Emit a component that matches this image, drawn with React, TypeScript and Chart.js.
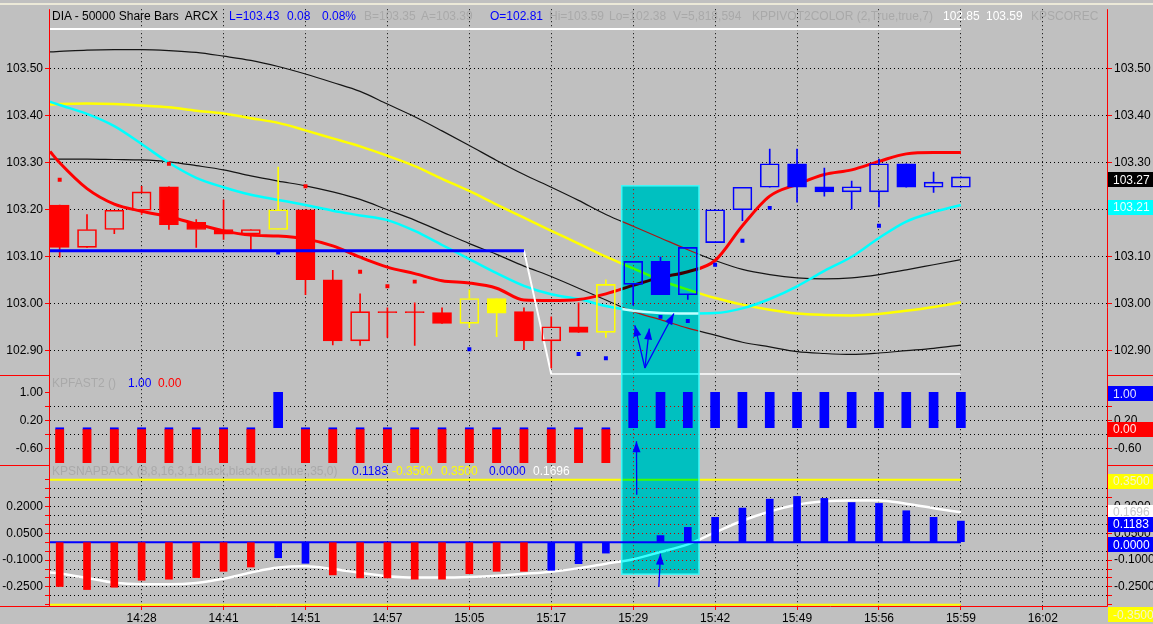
import React, { useEffect, useRef } from 'react';
import { Chart, registerables } from 'chart.js';

Chart.register(...registerables);

const FONT = 'Arial, "Liberation Sans", sans-serif';

// ---------- axis labels ----------
const TIME_LABELS = ['14:28', '14:41', '14:51', '14:57', '15:05', '15:17', '15:29', '15:42', '15:49', '15:56', '15:59', '16:02'];
const TIME_TICK_INDEX = [3, 6, 9, 12, 15, 18, 21, 24, 27, 30, 33, 36];
const PRICE_TICKS = [102.9, 103.0, 103.1, 103.2, 103.3, 103.4, 103.5];
const FAST_TICKS = [1.0, 0.6, 0.2, -0.2, -0.6];
const FAST_LABELED = [1.0, 0.2, -0.6];
const SNAP_TICKS = [-0.35, -0.3, -0.25, -0.2, -0.15, -0.1, -0.05, 0, 0.05, 0.1, 0.15, 0.2, 0.25, 0.3, 0.35];
const SNAP_LABELED = [0.2, 0.05, -0.1, -0.25];

// ---------- price bars ----------
const OPEN = [103.21, 103.12, 103.158, 103.199, 103.249, 103.173, 103.158, 103.148, 103.158, 103.2, 103.051, 102.921, 102.981, 102.981, 102.981, 102.958, 103.011, 102.983, 102.921, 102.951, 102.939, 103.041, 103.09, 103.019, 103.13, 103.2, 103.248, 103.298, 103.249, 103.238, 103.238, 103.298, 103.248, 103.248];
const HIGH = [103.21, 103.19, 103.199, 103.25, 103.249, 103.179, 103.221, 103.158, 103.291, 103.2, 103.071, 103.021, 102.991, 103.002, 102.991, 103.03, 103.011, 102.991, 102.972, 103.002, 103.051, 103.09, 103.099, 103.12, 103.2, 103.248, 103.329, 103.329, 103.289, 103.261, 103.308, 103.298, 103.28, 103.27];
const LOW = [103.099, 103.12, 103.149, 103.19, 103.158, 103.12, 103.137, 103.115, 103.158, 103.019, 102.912, 102.911, 102.928, 102.911, 102.958, 102.949, 102.93, 102.902, 102.863, 102.939, 102.928, 102.997, 103.019, 103.009, 103.13, 103.177, 103.248, 103.216, 103.229, 103.201, 103.206, 103.248, 103.237, 103.248];
const CLOSE = [103.12, 103.158, 103.199, 103.238, 103.168, 103.158, 103.148, 103.158, 103.2, 103.051, 102.921, 102.983, 102.981, 102.981, 102.958, 103.011, 102.98, 102.921, 102.951, 102.939, 103.041, 103.09, 103.019, 103.12, 103.2, 103.248, 103.298, 103.248, 103.238, 103.249, 103.298, 103.248, 103.259, 103.27];
const BAR_TREND = ['R', 'R', 'R', 'R', 'R', 'R', 'R', 'R', 'Y', 'R', 'R', 'R', 'R', 'R', 'R', 'Y', 'Y', 'R', 'R', 'R', 'Y', 'B', 'B', 'B', 'B', 'B', 'B', 'B', 'B', 'B', 'B', 'B', 'B', 'B'];

// ---------- overlays on price ----------
const RED_MA = [103.3, 103.245, 103.212, 103.197, 103.185, 103.17, 103.155, 103.146, 103.144, 103.138, 103.123, 103.099, 103.078, 103.064, 103.049, 103.044, 103.033, 103.008, 103.007, 103.009, 103.021, 103.039, 103.056, 103.068, 103.092, 103.166, 103.229, 103.254, 103.275, 103.285, 103.303, 103.319, 103.322, 103.322];
const CYAN_MA = [103.423, 103.404, 103.378, 103.34, 103.3, 103.268, 103.248, 103.232, 103.221, 103.21, 103.198, 103.188, 103.178, 103.155, 103.125, 103.095, 103.065, 103.038, 103.02, 103.01, 102.995, 102.985, 102.98, 102.979, 102.98, 102.99, 103.01, 103.037, 103.07, 103.1, 103.14, 103.175, 103.195, 103.21];
const YELLOW_MA = [103.425, 103.426, 103.425, 103.422, 103.418, 103.411, 103.405, 103.395, 103.385, 103.369, 103.352, 103.335, 103.315, 103.293, 103.266, 103.24, 103.211, 103.183, 103.155, 103.128, 103.1, 103.075, 103.05, 103.03, 103.012, 102.998, 102.987, 102.979, 102.976, 102.975, 102.978, 102.985, 102.993, 103.003];
const UPPER_BAND = [103.537, 103.54, 103.541, 103.541, 103.539, 103.535, 103.527, 103.518, 103.505, 103.489, 103.471, 103.452, 103.425, 103.398, 103.368, 103.337, 103.305, 103.275, 103.248, 103.22, 103.19, 103.165, 103.14, 103.115, 103.092, 103.073, 103.062, 103.055, 103.053, 103.055, 103.062, 103.072, 103.083, 103.094];
const LOWER_BAND = [103.308, 103.308, 103.307, 103.306, 103.302, 103.294, 103.285, 103.272, 103.261, 103.251, 103.238, 103.222, 103.2, 103.178, 103.153, 103.128, 103.105, 103.08, 103.058, 103.033, 103.008, 102.983, 102.966, 102.948, 102.933, 102.918, 102.908, 102.898, 102.894, 102.892, 102.895, 102.9, 102.905, 102.912];
// values where each line meets the left edge of the plot
const EDGE_RED_MA = 103.324;
const EDGE_CYAN_MA = 103.43;
const EDGE_YELLOW_MA = 103.424;
const EDGE_UPPER_BAND = 103.536;
const EDGE_LOWER_BAND = 103.308;
const EDGE_SNAP_SIGNAL = -0.17;
const PIVOT = [103.113, 103.113, 103.113, 103.113, 103.113, 103.113, 103.113, 103.113, 103.113, 103.113, 103.113, 103.113, 103.113, 103.113, 103.113, 103.113, 103.113, 103.113, 102.85, 102.85, 102.85, 102.85, 102.85, 102.85, 102.85, 102.85, 102.85, 102.85, 102.85, 102.85, 102.85, 102.85, 102.85, 102.85];
const PIVOT_SWITCH = 17;
const PIVOT_HIGH = 103.585;
const RED_DOT_INDEX = [0, 4, 9, 11, 12, 13];
const RED_DOT_VALUE = [103.264, 103.298, 103.25, 103.068, 103.037, 103.047];
const BLUE_DOT_INDEX = [8, 15, 19, 20, 22, 23, 24, 25, 26, 30];
const BLUE_DOT_VALUE = [103.109, 102.903, 102.893, 102.884, 102.972, 102.963, 103.083, 103.134, 103.204, 103.166];

// ---------- KPFAST2 ----------
const FAST2 = [-1, -1, -1, -1, -1, -1, -1, -1, 1, -1, -1, -1, -1, -1, -1, -1, -1, -1, -1, -1, -1, 1, 1, 1, 1, 1, 1, 1, 1, 1, 1, 1, 1, 1];

// ---------- KPSNAPBACK ----------
const SNAP = [-0.248, -0.265, -0.252, -0.213, -0.207, -0.198, -0.163, -0.139, -0.087, -0.118, -0.183, -0.2, -0.2, -0.207, -0.207, -0.176, -0.163, -0.163, -0.157, -0.12, -0.061, 0.0, 0.037, 0.083, 0.139, 0.191, 0.241, 0.256, 0.245, 0.222, 0.217, 0.176, 0.139, 0.118];
const SNAP_TREND = ['R', 'R', 'R', 'R', 'R', 'R', 'R', 'R', 'B', 'B', 'R', 'R', 'R', 'R', 'R', 'R', 'R', 'R', 'B', 'B', 'B', 'B', 'B', 'B', 'B', 'B', 'B', 'B', 'B', 'B', 'B', 'B', 'B', 'B'];
const SNAP_SIGNAL = [-0.175, -0.2, -0.227, -0.235, -0.235, -0.228, -0.205, -0.17, -0.142, -0.135, -0.15, -0.172, -0.19, -0.198, -0.198, -0.195, -0.188, -0.177, -0.165, -0.145, -0.12, -0.095, -0.055, -0.012, 0.055, 0.12, 0.172, 0.21, 0.229, 0.234, 0.234, 0.215, 0.19, 0.167];
const SNAP_BAND = 0.35;

// ---------- annotations (data units) ----------
const BOX_FROM = 20.58;
const BOX_TO = 23.41;
const BOX_TOP_PRICE = 103.251;
const BOX_BOTTOM_SNAP = -0.179;
const MAIN_ARROW_BASE = { x: 21.43, y: 102.863 };
const MAIN_ARROW_TIPS = [{ x: 21.06, y: 102.954 }, { x: 21.59, y: 102.947 }, { x: 22.49, y: 102.979 }];
const FAST_ARROW = { x0: 21.13, snap0: 0.265, x1: 21.12, fast1: -0.384 };
const SNAP_ARROW = { x0: 21.94, y0: -0.25, x1: 22.0, y1: -0.064 };

// ---------- right-hand value tags ----------
const TAG_TEXT = ['103.27', '103.21', '1.00', '0.00', '0.3500', '0.1696', '0.1183', '0.0000', '-0.3500'];
const TAG_VALUE = [103.27, 103.21, 1.0, 0.0, 0.35, 0.1696, 0.1183, 0.0, -0.35];
const TAG_AXIS = ['y1r', 'y1r', 'y2r', 'y2r', 'y3r', 'y3r', 'y3r', 'y3r', 'y3r'];
const TAG_BG = ['#000000', '#00ffff', '#0000ff', '#ff0000', '#ffff00', '#ffffff', '#0000ff', '#0000ff', '#ffff00'];
const TAG_FG = ['#ffffff', '#e8ffff', '#e0e0ff', '#ffe8e8', '#f4f4d0', '#c8c8c8', '#ffffff', '#ffffff', '#f4f4d0'];
const TAG_DY = [3, 2, 1.5, 1.5, 1.5, 0.5, 3.5, 2.5, 10];

const X_MIN = -0.355;
const X_MAX = 38.35;

const COLORS: any = { R: '#ff0000', Y: '#ffff00', B: '#0000ff' };
const N = OPEN.length;
const IDX = OPEN.map((_, i) => i);

const near = (a: number, b: number) => Math.abs(a - b) < 1e-6;

function drawArrow(ctx: any, x0: number, y0: number, x1: number, y1: number) {
  ctx.save();
  ctx.strokeStyle = '#0000ff';
  ctx.fillStyle = '#0000ff';
  ctx.lineWidth = 1.3;
  ctx.beginPath();
  ctx.moveTo(x0, y0);
  ctx.lineTo(x1, y1);
  ctx.stroke();
  const a = Math.atan2(y1 - y0, x1 - x0);
  const L = 11, W = 4;
  const bx = x1 - L * Math.cos(a), by = y1 - L * Math.sin(a);
  ctx.beginPath();
  ctx.moveTo(x1, y1);
  ctx.lineTo(bx + W * Math.sin(a), by - W * Math.cos(a));
  ctx.lineTo(bx - W * Math.sin(a), by + W * Math.cos(a));
  ctx.closePath();
  ctx.fill();
  ctx.restore();
}

const decorPlugin = {
  id: 'tsDecor',
  beforeDraw(chart: any) {
    const ctx = chart.ctx;
    ctx.save();
    ctx.fillStyle = '#c0c0c0';
    ctx.fillRect(0, 0, chart.width, chart.height);
    ctx.fillStyle = '#ece9d8';
    ctx.fillRect(0, 3, chart.width, 2);
    ctx.restore();
  },
  beforeDatasetsDraw(chart: any) {
    chart.$boxDone = false;
  },
  beforeDatasetDraw(chart: any, args: any) {
    const ds = chart.data.datasets[args.index];
    if (ds.afterBox && !chart.$boxDone) {
      chart.$boxDone = true;
      const { x, y1, y3 } = chart.scales;
      const l = x.getPixelForValue(BOX_FROM);
      const r = x.getPixelForValue(BOX_TO);
      const t = y1.getPixelForValue(BOX_TOP_PRICE);
      const b = y3.getPixelForValue(BOX_BOTTOM_SNAP);
      const ctx = chart.ctx;
      ctx.save();
      ctx.globalCompositeOperation = 'difference';
      ctx.fillStyle = 'rgb(192,0,0)';
      ctx.fillRect(l, t, r - l, b - t);
      ctx.restore();
      ctx.save();
      ctx.strokeStyle = '#40f8f8';
      ctx.lineWidth = 1.5;
      ctx.strokeRect(l, t, r - l, b - t);
      ctx.restore();
    }
  },
  afterDraw(chart: any) {
    const ctx = chart.ctx;
    const { x, y1, y2, y3 } = chart.scales;
    const area = chart.chartArea;
    // axis frame
    ctx.save();
    ctx.strokeStyle = '#ff0000';
    ctx.lineWidth = 1;
    ctx.beginPath();
    ctx.moveTo(area.left - 0.5, area.top);
    ctx.lineTo(area.left - 0.5, area.bottom + 0.5);
    ctx.moveTo(area.right + 0.5, area.top);
    ctx.lineTo(area.right + 0.5, area.bottom + 0.5);
    ctx.moveTo(0, area.bottom + 0.5);
    ctx.lineTo(area.right + 0.5, area.bottom + 0.5);
    for (const yy of [y2.top, y3.top]) {
      ctx.moveTo(0, Math.round(yy) + 0.5);
      ctx.lineTo(area.left, Math.round(yy) + 0.5);
      ctx.moveTo(area.right, Math.round(yy) + 0.5);
      ctx.lineTo(chart.width, Math.round(yy) + 0.5);
    }
    ctx.stroke();
    ctx.restore();

    // value tags
    ctx.save();
    ctx.font = `12px ${FONT}`;
    ctx.textBaseline = 'middle';
    ctx.textAlign = 'left';
    TAG_TEXT.forEach((txt, i) => {
      const cy = chart.scales[TAG_AXIS[i]].getPixelForValue(TAG_VALUE[i]) + TAG_DY[i];
      ctx.fillStyle = TAG_BG[i];
      ctx.fillRect(area.right + 1, Math.round(cy - 7.5), chart.width - area.right - 1, 15);
      ctx.fillStyle = TAG_FG[i];
      ctx.fillText(txt, area.right + 6, cy + 0.5);
    });
    ctx.restore();

    // arrows
    const bx = x.getPixelForValue(MAIN_ARROW_BASE.x), by = y1.getPixelForValue(MAIN_ARROW_BASE.y);
    MAIN_ARROW_TIPS.forEach((p) => drawArrow(ctx, bx, by, x.getPixelForValue(p.x), y1.getPixelForValue(p.y)));
    drawArrow(ctx, x.getPixelForValue(FAST_ARROW.x0), y3.getPixelForValue(FAST_ARROW.snap0), x.getPixelForValue(FAST_ARROW.x1), y2.getPixelForValue(FAST_ARROW.fast1));
    drawArrow(ctx, x.getPixelForValue(SNAP_ARROW.x0), y3.getPixelForValue(SNAP_ARROW.y0), x.getPixelForValue(SNAP_ARROW.x1), y3.getPixelForValue(SNAP_ARROW.y1));
  },
};

function yScale(opts: any) {
  const { side, stack, weight, min, max, ticks, label, grid } = opts;
  return {
    type: 'linear',
    position: side,
    stack,
    stackWeight: weight,
    min,
    max,
    afterBuildTicks: (s: any) => { s.ticks = ticks.map((v: number) => ({ value: v })); },
    afterFit: (s: any) => { s.width = side === 'left' ? 50 : 46; },
    border: { display: false, dash: [1, 3] },
    grid: {
      drawOnChartArea: side === 'left',
      color: (c: any) => (grid(c.tick ? c.tick.value : 0) ? '#000000' : 'rgba(0,0,0,0)'),
      lineWidth: 1,
      tickColor: '#ff0000',
      tickLength: 5,
      drawTicks: true,
    },
    ticks: {
      callback: (v: number) => label(v),
      color: '#000000',
      font: { family: FONT, size: 12 },
      padding: 2,
      autoSkip: false,
      maxRotation: 0,
    },
  };
}

function buildConfig(): any {
  const pt = (arr: number[], edge?: number) => [
    ...(edge === undefined ? [] : [{ x: X_MIN, y: edge }]),
    ...arr.map((v, i) => ({ x: i, y: v })),
  ];
  const line = (data: any[], color: string, width: number, order: number, axis: string, extra: any = {}) => ({
    type: 'line', data, borderColor: color, borderWidth: width, pointRadius: 0, fill: false,
    cubicInterpolationMode: 'monotone', xAxisID: 'x', yAxisID: axis, order, ...extra,
  });
  const col = (i: number) => COLORS[BAR_TREND[i]];
  const filled = (i: number) => CLOSE[i] <= OPEN[i];
  const straight = { cubicInterpolationMode: 'default', tension: 0 };

  const datasets: any[] = [
    line([{ x: X_MIN, y: PIVOT_HIGH }, { x: N - 1, y: PIVOT_HIGH }], '#ffffff', 2, 30, 'y1', straight),
    line(pt(UPPER_BAND, EDGE_UPPER_BAND), '#151515', 1.2, 29, 'y1'),
    line(pt(LOWER_BAND, EDGE_LOWER_BAND), '#151515', 1.2, 28, 'y1'),
    line(pt(YELLOW_MA, EDGE_YELLOW_MA), '#ffff00', 2.5, 27, 'y1'),
    line(pt(CYAN_MA, EDGE_CYAN_MA), '#00ffff', 2.5, 26, 'y1'),
    line(pt(RED_MA, EDGE_RED_MA), '#ff0000', 3, 25, 'y1'),
    line(IDX.filter((i) => i >= PIVOT_SWITCH).map((i) => ({ x: i, y: PIVOT[i] })), '#ffffff', 2, 24, 'y1', straight),
    line([{ x: X_MIN, y: SNAP_BAND }, { x: N - 1, y: SNAP_BAND }], '#ffff00', 2, 23, 'y3', straight),
    line([{ x: X_MIN, y: -SNAP_BAND }, { x: N - 1, y: -SNAP_BAND }], '#ffff00', 2, 22, 'y3', straight),
    line(pt(SNAP_SIGNAL, EDGE_SNAP_SIGNAL), '#ffffff', 2.5, 21, 'y3'),
    // ---- drawn after the highlight box ----
    line([{ x: X_MIN, y: 0 }, { x: N - 1, y: 0 }], '#0000ff', 2, 10, 'y3', { ...straight, afterBox: true }),
    {
      type: 'bar', xAxisID: 'x', yAxisID: 'y1', order: 9, afterBox: true, grouped: false,
      data: IDX.map((i) => ({ x: i, y: [Math.max(OPEN[i], CLOSE[i]), HIGH[i]] })),
      backgroundColor: IDX.map(col), borderWidth: 0, barThickness: 1,
    },
    {
      type: 'bar', xAxisID: 'x', yAxisID: 'y1', order: 8, afterBox: true, grouped: false,
      data: IDX.map((i) => ({ x: i, y: [LOW[i], Math.min(OPEN[i], CLOSE[i])] })),
      backgroundColor: IDX.map(col), borderWidth: 0, barThickness: 1,
    },
    {
      type: 'bar', xAxisID: 'x', yAxisID: 'y1', order: 7, afterBox: true, grouped: false,
      data: IDX.map((i) => ({ x: i, y: [Math.min(OPEN[i], CLOSE[i]), Math.max(OPEN[i], CLOSE[i])] })),
      backgroundColor: IDX.map((i) => (filled(i) ? col(i) : 'rgba(0,0,0,0)')),
      borderColor: IDX.map(col), borderWidth: 1, borderSkipped: false, barThickness: 19, minBarLength: 1,
    },
    line([{ x: X_MIN, y: PIVOT[0] }, ...IDX.filter((i) => i <= PIVOT_SWITCH).map((i) => ({ x: i, y: PIVOT[i] }))], '#0000ff', 3, 6, 'y1', { ...straight, afterBox: true }),
    {
      type: 'bar', xAxisID: 'x', yAxisID: 'y2', order: 5, afterBox: true, grouped: false,
      data: IDX.map((i) => ({ x: i, y: FAST2[i] })),
      backgroundColor: IDX.map((i) => (FAST2[i] > 0 ? '#0000ff' : '#ff0000')),
      borderColor: '#0000ff',
      borderWidth: IDX.map((i) => (FAST2[i] < 0 ? { top: 2, right: 0, bottom: 0, left: 0 } : 0)),
      borderSkipped: false, barThickness: 9,
    },
    {
      type: 'bar', xAxisID: 'x', yAxisID: 'y3', order: 4, afterBox: true, grouped: false,
      data: IDX.map((i) => ({ x: i, y: SNAP[i] })),
      backgroundColor: IDX.map((i) => COLORS[SNAP_TREND[i]]), borderWidth: 0, barThickness: 7,
    },
    {
      type: 'line', xAxisID: 'x', yAxisID: 'y1', order: 3, afterBox: true, showLine: false,
      data: RED_DOT_INDEX.map((i, k) => ({ x: i, y: RED_DOT_VALUE[k] })),
      pointStyle: 'rect', pointRadius: 2.8, pointBackgroundColor: '#ff0000', pointBorderWidth: 0,
    },
    {
      type: 'line', xAxisID: 'x', yAxisID: 'y1', order: 2, afterBox: true, showLine: false,
      data: BLUE_DOT_INDEX.map((i, k) => ({ x: i, y: BLUE_DOT_VALUE[k] })),
      pointStyle: 'rect', pointRadius: 2.8, pointBackgroundColor: '#0000ff', pointBorderWidth: 0,
    },
  ];

  const priceLabel = (v: number) => v.toFixed(2);
  const fastLabel = (v: number) => (FAST_LABELED.some((t) => near(t, v)) ? v.toFixed(2) : '');
  const snapLabel = (v: number) => (SNAP_LABELED.some((t) => near(t, v)) ? v.toFixed(4) : '');
  const priceGrid = () => true;
  const fastGrid = (v: number) => Math.abs(v) < 0.9;
  const snapGrid = (v: number) => Math.abs(v) > 1e-6 && Math.abs(v) < 0.31;

  const P = { min: 102.849, max: 103.627, ticks: PRICE_TICKS, label: priceLabel, grid: priceGrid, weight: 368 };
  const F = { min: -1.0575, max: 1.497, ticks: FAST_TICKS, label: fastLabel, grid: fastGrid, weight: 91 };
  const S = { min: -0.357, max: 0.432, ticks: SNAP_TICKS, label: snapLabel, grid: snapGrid, weight: 142 };

  return {
    type: 'bar',
    data: { datasets },
    plugins: [decorPlugin],
    options: {
      responsive: false,
      maintainAspectRatio: false,
      devicePixelRatio: 1,
      animation: false,
      events: [],
      layout: { padding: { top: 5, left: 0, right: 0, bottom: 0 } },
      plugins: { legend: { display: false }, tooltip: { enabled: false }, title: { display: false } },
      scales: {
        x: {
          type: 'linear', min: X_MIN, max: X_MAX, offset: false,
          afterBuildTicks: (s: any) => { s.ticks = TIME_TICK_INDEX.map((v) => ({ value: v })); },
          afterFit: (s: any) => { s.height = 18; },
          border: { display: false, dash: [1, 3] },
          grid: { color: '#000000', lineWidth: 1, tickColor: '#ff0000', tickLength: 4, offset: false },
          ticks: {
            callback: (v: number) => { const k = TIME_TICK_INDEX.indexOf(Math.round(v)); return k >= 0 ? TIME_LABELS[k] : ''; },
            color: '#000000', font: { family: FONT, size: 12 }, padding: 1, autoSkip: false, maxRotation: 0,
          },
        },
        // left-hand stack is laid out in reverse order by Chart.js, so list it bottom-first
        y3: yScale({ side: 'left', stack: 'L', ...S }),
        y2: yScale({ side: 'left', stack: 'L', ...F }),
        y1: yScale({ side: 'left', stack: 'L', ...P }),
        y1r: yScale({ side: 'right', stack: 'R', ...P }),
        y2r: yScale({ side: 'right', stack: 'R', ...F }),
        y3r: yScale({ side: 'right', stack: 'R', ...S }),
      },
    },
  };
}

// ---------- legend texts ----------
const GRAY = '#a9a9a9';
const TITLE_ROW = [
  { t: 'DIA - 50000 Share Bars  ARCX', x: 52, c: '#000000' },
  { t: 'L=103.43', x: 229, c: '#0000ff' },
  { t: '0.08', x: 287, c: '#0000ff' },
  { t: '0.08%', x: 322, c: '#0000ff' },
  { t: 'B=103.35', x: 364, c: GRAY },
  { t: 'A=103.39', x: 421, c: GRAY },
  { t: 'O=102.81', x: 490, c: '#0000ff' },
  { t: 'Hi=103.59', x: 549, c: GRAY },
  { t: 'Lo=102.38', x: 609, c: GRAY },
  { t: 'V=5,818,594', x: 673, c: GRAY },
  { t: 'KPPIVOT2COLOR (2,True,true,7)', x: 752, c: GRAY },
  { t: '102.85', x: 943, c: '#ffffff' },
  { t: '103.59', x: 986, c: '#ffffff' },
  { t: 'KPSCOREC', x: 1031, c: GRAY },
];
const FAST_ROW = [
  { t: 'KPFAST2 ()', x: 52, c: GRAY },
  { t: '1.00', x: 128, c: '#0000ff' },
  { t: '0.00', x: 158, c: '#ff0000' },
];
const SNAP_ROW = [
  { t: 'KPSNAPBACK (8,8,16,3,1,black,black,red,blue,,35,0)', x: 52, c: GRAY },
  { t: '0.1183', x: 352, c: '#0000ff' },
  { t: '-0.3500', x: 392, c: '#ffff00' },
  { t: '0.3500', x: 441, c: '#ffff00' },
  { t: '0.0000', x: 489, c: '#0000ff' },
  { t: '0.1696', x: 533, c: '#ffffff' },
];
const ROWS = [
  { items: TITLE_ROW, cy: 16 },
  { items: FAST_ROW, cy: 383 },
  { items: SNAP_ROW, cy: 471 },
];

export default function App() {
  const ref = useRef<HTMLCanvasElement>(null);
  useEffect(() => {
    if (!ref.current) return;
    const chart = new Chart(ref.current, buildConfig());
    return () => chart.destroy();
  }, []);
  return (
    <div style={{ position: 'absolute', left: 0, top: 0, width: 1153, height: 624, background: '#c0c0c0', overflow: 'hidden' }}>
      <canvas ref={ref} width={1153} height={624} style={{ position: 'absolute', left: 0, top: 0, width: 1153, height: 624 }} />
      {ROWS.map((row, r) =>
        row.items.map((it, k) => (
          <span
            key={`${r}-${k}`}
            style={{
              position: 'absolute', left: it.x, top: row.cy - 7, height: 14, lineHeight: '14px',
              font: `12px ${FONT}`, color: it.c, whiteSpace: 'pre',
            }}
          >
            {it.t}
          </span>
        ))
      )}
    </div>
  );
}
